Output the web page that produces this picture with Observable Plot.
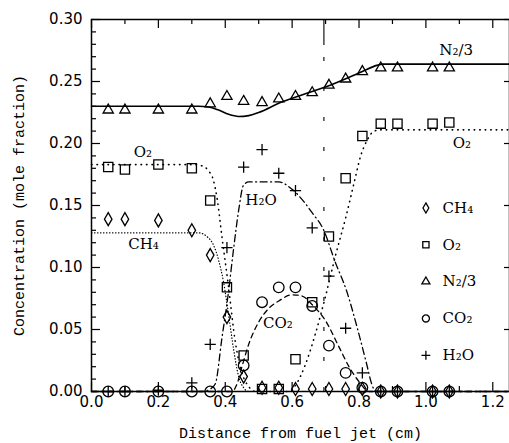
<!DOCTYPE html>
<html><head><meta charset="utf-8">
<script src="https://cdn.jsdelivr.net/npm/d3@7"></script>
<script src="https://cdn.jsdelivr.net/npm/@observablehq/plot@0.6"></script>
<style>html,body{margin:0;padding:0;background:#fff;} #chart{width:509px;height:443px;overflow:hidden}</style>
</head><body><div id="chart"></div>
<script>
// ---- measured points (x in cm) ----
const xs   = [0.05,0.1,0.2,0.3,0.355,0.405,0.455,0.51,0.56,0.61,0.66,0.71,0.76,0.81,0.865,0.915,1.02,1.07];
const ch4  = [0.139,0.139,0.138,0.130,0.110,0.060,0.012,0.003,0.003,0.002,0.002,0.002,0.002,0.002,0.0,0.0,0.0,0.0];
const o2   = [0.181,0.179,0.183,0.180,0.154,0.084,0.029,0.002,0.002,0.026,0.072,0.125,0.172,0.206,0.216,0.216,0.216,0.217];
const n2   = [0.227,0.227,0.227,0.227,0.232,0.238,0.234,0.233,0.236,0.238,0.241,0.247,0.252,0.258,0.261,0.261,0.261,0.261];
const co2  = [0,0,0,0,0,0,0.021,0.072,0.084,0.084,0.069,0.037,0.015,0.003,0,0,0,0];
const h2o  = [0,0,0.001,0.007,0.038,0.116,0.181,0.195,0.176,0.162,0.132,0.093,0.051,0.015,0,0,0,0];

// ---- model curves ----
const n2LineX  = [0,0.32,0.35,0.38,0.41,0.44,0.47,0.5,0.565,0.66,0.714,0.81,0.853,0.87,1.25];
const n2LineY  = [0.230,0.230,0.2295,0.227,0.2235,0.2218,0.2225,0.225,0.233,0.242,0.247,0.258,0.263,0.264,0.264];
const o2LineX  = [0,0.3,0.33,0.35,0.365,0.376,0.39,0.41,0.43,0.45,0.47,0.49,0.59,0.61,0.64,0.67,0.70,0.73,0.76,0.785,0.805,0.825,0.845,0.865,1.25];
const o2LineY  = [0.183,0.183,0.182,0.178,0.170,0.155,0.125,0.084,0.040,0.015,0.004,0,0,0.005,0.022,0.047,0.077,0.11,0.14,0.168,0.19,0.203,0.21,0.211,0.211];
const ch4LineX = [0,0.32,0.345,0.365,0.38,0.395,0.41,0.425,0.44,0.455,0.47,1.25];
const ch4LineY = [0.128,0.128,0.125,0.118,0.106,0.088,0.062,0.034,0.012,0.003,0,0];
const h2oLineX = [0,0.33,0.355,0.37,0.39,0.41,0.424,0.44,0.454,0.47,0.56,0.60,0.663,0.693,0.728,0.763,0.797,0.823,0.838,0.85,1.25];
const h2oLineY = [0,0,0.002,0.006,0.043,0.081,0.113,0.146,0.166,0.169,0.169,0.163,0.143,0.131,0.105,0.081,0.049,0.022,0.006,0,0];
const co2LineX = [0,0.42,0.435,0.45,0.47,0.5,0.53,0.56,0.6,0.63,0.66,0.7,0.74,0.77,0.8,0.83,1.25];
const co2LineY = [0,0,0.006,0.02,0.038,0.056,0.067,0.073,0.078,0.077,0.07,0.057,0.036,0.02,0.008,0,0];

const markerX = 0.695;

// ---- ticks & labels ----
const xMajor = [0,0.2,0.4,0.6,0.8,1.0,1.2];
const xMinor = [0.1,0.3,0.5,0.7,0.9,1.1];
const yMajor = [0,0.05,0.10,0.15,0.20,0.25,0.30];
const yMinor = d3.range(0,31).map(i=>i/100).filter(v=>Math.round(v*100)%5!==0);

const legendLabels  = ["CH₄","O₂","N₂/3","CO₂","H₂O"];
const legendSymbols = ["diamond","square","triangle","circle","plus"];
const annText = ["N₂/3","O₂","O₂","H₂O","CH₄","CO₂"];
const annX    = [1.04,0.126,1.08,0.46,0.11,0.513];
const annY    = [0.275,0.193,0.200,0.154,0.119,0.055];

const xTitle = "Distance from fuel jet (cm)";
const yTitle = "Concentration (mole fraction)";

// ---- layout ----
const W = 509, H = 443, mL = 91, mR = 0, mT = 19, mB = 52;
const fw = W - mL - mR, fh = H - mT - mB;
const symR = {diamond:3.95, square:5.2, triangle:3.8, circle:5.3, plus:3.7};
const sw = 1.3;
const serif = "DejaVu Serif";
const line = (X, Y, dash, w=1.4) => Plot.line(X.map((x,i)=>({x, y:Y[i]})), {x:"x", y:"y", curve:"monotone-x", stroke:"black", strokeWidth:w, strokeDasharray:dash, strokeLinecap:"round"});
const dots = (Y, sym) => Plot.dot(xs.map((x,i)=>({x, y:Y[i]})), {x:"x", y:"y", symbol:()=>sym, r:symR[sym], stroke:"black", strokeWidth:sw, fill:"none"});

const chart = Plot.plot({
  width: W, height: H,
  marginLeft: mL, marginRight: mR, marginTop: mT, marginBottom: mB,
  x: {domain:[0,1.25]},
  y: {domain:[0,0.30]},
  symbol: {type: "identity"},
  style: {background:"white", overflow:"visible"},
  marks: [
    // vertical marker
    Plot.ruleX([markerX], {y1:0.279, y2:0.30, stroke:"black", strokeWidth:1.1}),
    Plot.ruleX([markerX], {y1:0, y2:0.279, stroke:"black", strokeWidth:1.1, strokeDasharray:"4 26"}),
    // curves
    line(n2LineX, n2LineY, null, 1.6),
    line(o2LineX, o2LineY, "0.5 5", 1.6),
    line(ch4LineX, ch4LineY, "0.5 2.5", 1.2),
    line(h2oLineX, h2oLineY, "7 3.5 1 3.5", 1.3),
    line(co2LineX, co2LineY, "5 4", 1.3),
    // measurements
    dots(ch4, "diamond"),
    dots(o2, "square"),
    dots(n2, "triangle"),
    dots(co2, "circle"),
    dots(h2o, "plus"),
    // legend
    Plot.dot(legendSymbols, {x:()=>1.0, y:(d,i)=>0.148 - i*0.0297, symbol:d=>d, r:d=>symR[d], stroke:"black", strokeWidth:sw, fill:"none"}),
    Plot.text(legendLabels, {x:()=>1.05, y:(d,i)=>0.148 - i*0.0297, text:d=>d, textAnchor:"start", fontFamily:serif, fontSize:15, fill:"black"}),
    // annotations
    Plot.text(annText, {x:(d,i)=>annX[i], y:(d,i)=>annY[i], text:d=>d, textAnchor:"start", fontFamily:serif, fontSize:15, fill:"black"}),
    // frame & ticks
    Plot.frame({stroke:"black", strokeWidth:1.5}),
    Plot.tickX(xMajor, {x:d=>d, insetTop: fh-9, stroke:"black", strokeWidth:1.2}),
    Plot.tickX(xMinor, {x:d=>d, insetTop: fh-5, stroke:"black", strokeWidth:1.2}),
    Plot.tickX(xMajor, {x:d=>d, insetBottom: fh-9, stroke:"black", strokeWidth:1.2}),
    Plot.tickX(xMinor, {x:d=>d, insetBottom: fh-5, stroke:"black", strokeWidth:1.2}),
    Plot.tickY(yMajor, {y:d=>d, insetRight: fw-9, stroke:"black", strokeWidth:1.2}),
    Plot.tickY(yMinor, {y:d=>d, insetRight: fw-5, stroke:"black", strokeWidth:1.2}),
    Plot.tickY(yMajor, {y:d=>d, insetLeft: fw-5, stroke:"black", strokeWidth:1.2}),
    // tick labels
    Plot.axisX(xMajor, {tickSize:0, tickPadding:5, tickFormat:d3.format(".1f"), fontSize:15, fontFamily:"DejaVu Sans", fill:"black", label:null}),
    Plot.axisY(yMajor, {tickSize:0, tickPadding:9, tickFormat:d3.format(".2f"), fontSize:15, fontFamily:"DejaVu Sans", fill:"black", label:null}),
    // titles
    Plot.text([xTitle], {frameAnchor:"bottom", dy:46, text:d=>d, textAnchor:"middle", fontFamily:"Liberation Mono", fontSize:15, fill:"black"}),
    Plot.text([yTitle], {frameAnchor:"left", dx:-72, rotate:-90, text:d=>d, textAnchor:"middle", lineAnchor:"middle", fontFamily:"Liberation Mono", fontSize:15, fill:"black"})
  ]
});
document.getElementById("chart").appendChild(chart);
</script></body></html>
